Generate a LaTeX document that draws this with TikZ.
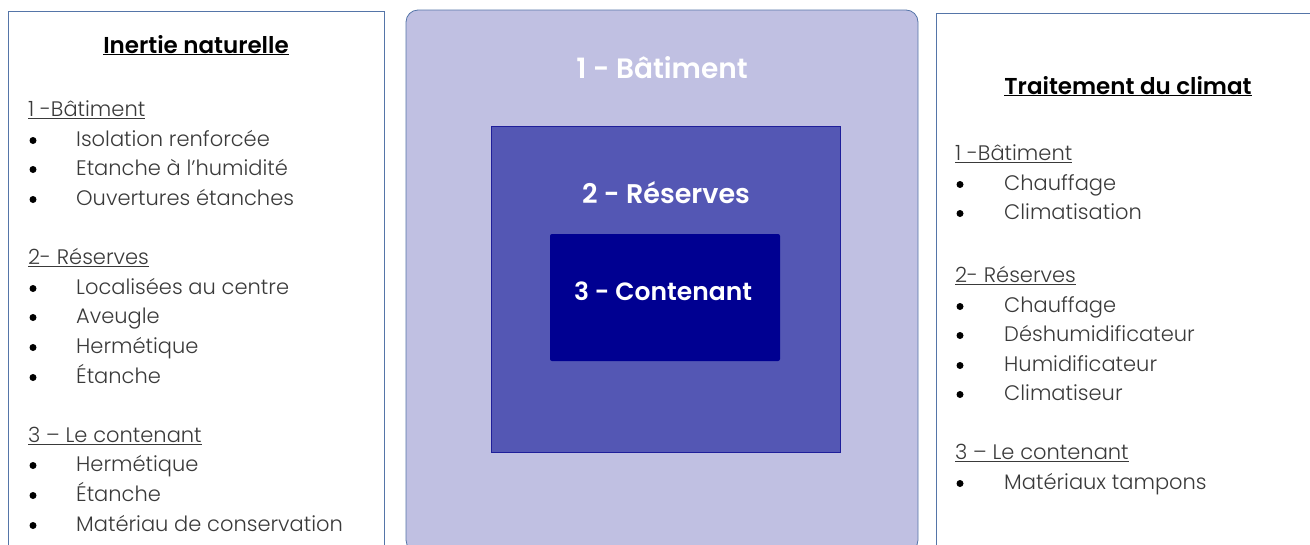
\documentclass[tikz,border=0pt]{standalone}
\usepackage{fontspec}
\setmainfont{Poppins}
\newfontfamily\lightf{Poppins Light}
\newfontfamily\semif{Poppins SemiBold}
\definecolor{boxline}{HTML}{5575A8}
\definecolor{bldg}{HTML}{C0C0E2}
\definecolor{resv}{HTML}{5457B4}
\definecolor{resvline}{HTML}{1E1E9A}
\definecolor{cont}{HTML}{000091}
\definecolor{txt}{HTML}{3A3A3A}
\begin{document}
\begin{tikzpicture}[x=1pt,y=-1pt,
  panel/.style={draw=boxline, line width=0.8pt, fill=white},
  title/.style={anchor=base, font=\fontsize{23}{27}\selectfont\semif, text=black, inner sep=0pt},
  head/.style={anchor=base west, font=\fontsize{21}{25}\selectfont\lightf, text=txt, inner sep=0pt},
  item/.style={anchor=base west, font=\fontsize{21}{25}\selectfont\lightf, text=txt, inner sep=0pt},
  bul/.style={circle, fill=black, inner sep=0pt, minimum size=7pt},
  lvl/.style={anchor=base, font=\fontsize{28}{32}\selectfont\semif, text=white, inner sep=0pt}]
\useasboundingbox (0,0) rectangle (1310,544);
\clip (0,0) rectangle (1310,544);
% panels
\draw[panel] (8,11) rectangle (384,570);
\draw[panel] (936,13) rectangle (1330,570);
\draw[draw=boxline, line width=0.8pt, fill=bldg, rounded corners=12] (406,10) rectangle (918,552);
\node[draw=resvline, line width=1pt, fill=resv, minimum width=349pt, minimum height=326pt, inner sep=0pt] (resbox) at (665.5,289) {};
\node[fill=cont, rounded corners=2pt, minimum width=230pt, minimum height=127pt, inner sep=0pt] (contbox) at (665,297.5) {};
\node[lvl] (l1) at (662,78.5) {1 - Bâtiment};
\node[lvl, font=\fontsize{27}{31}\selectfont\semif] (l2) at (666,203.5) {2 - Réserves};
\node[lvl, font=\fontsize{25}{29}\selectfont\semif] (l3) at (663,300) {3 - Contenant};
% left panel
\node[title] (lt) at (196,53) {\underline{Inertie naturelle}};
\node[head] (lh1) at (28,116.5) {\underline{1 -Bâtiment}};
\node[head] (lh2) at (28,264.5) {\underline{2- Réserves}};
\node[head] (lh3) at (28,442.5) {\underline{3 – Le contenant}};
\foreach \y/\t [count=\i] in {138/Isolation renforcée, 167/Etanche à l’humidité, 197/Ouvertures étanches,
  286/Localisées au centre, 315/Aveugle, 345/Hermétique, 375/Étanche,
  463/Hermétique, 493/Étanche, 523/Matériau de conservation}{
  \node[bul] (lb\i) at (33,\y+2.5) {};
  \node[item] (li\i) at (76,\y+8.5) {\t};
}
% right panel
\node[title] (rt) at (1128,94) {\underline{Traitement du climat}};
\node[head] (rh1) at (955,160.5) {\underline{1 -Bâtiment}};
\node[head] (rh2) at (955,282.5) {\underline{2- Réserves}};
\node[head] (rh3) at (955,459.5) {\underline{3 – Le contenant}};
\foreach \y/\t [count=\i] in {182/Chauffage, 211/Climatisation,
  304/Chauffage, 333/Déshumidificateur, 363/Humidificateur, 392/Climatiseur,
  481/Matériaux tampons}{
  \node[bul] (rb\i) at (960,\y+2.5) {};
  \node[item] (ri\i) at (1004,\y+8.5) {\t};
}
\end{tikzpicture}
\end{document}
